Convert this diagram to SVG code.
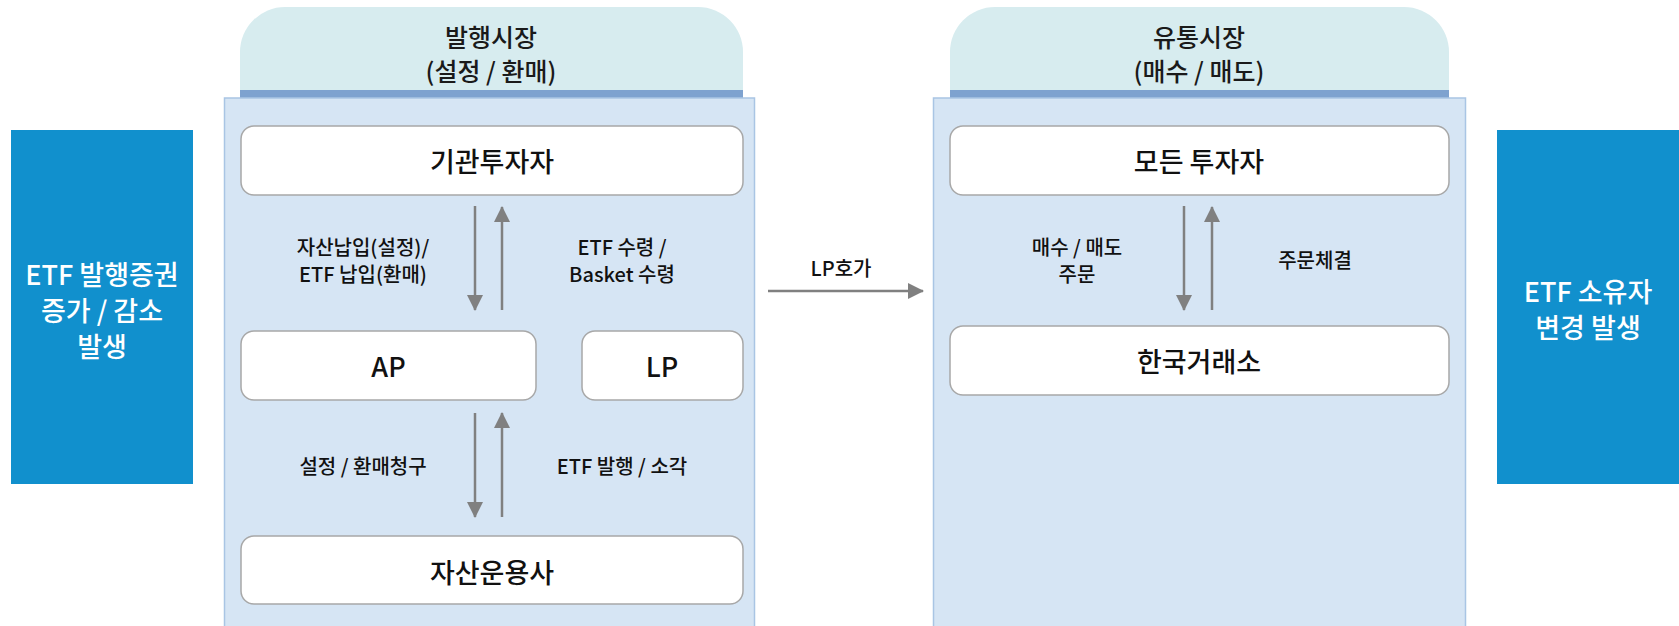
<svg xmlns="http://www.w3.org/2000/svg" width="1679" height="626" viewBox="0 0 1679 626">
<defs>
<style>
.side{fill:#1190cd}
.tab{fill:#d7ecef}
.strip{fill:#7ea2cf}
.panel{fill:#d6e5f4;stroke:#a9c5e4;stroke-width:1.5}
.node{fill:#ffffff;stroke:#a8a8a8;stroke-width:1.5}
text{font-family:"Noto Sans CJK KR","Noto Sans",sans-serif;text-anchor:middle;dominant-baseline:central}
.wt{fill:#ffffff;font-size:27px;font-weight:500}
.hd{fill:#1a1a1a;font-size:25px;font-weight:500}
.nt{fill:#111111;font-size:27px;font-weight:500}
.lb{fill:#111111;font-size:20px;font-weight:500}
.ar{stroke:#808080;stroke-width:2.5;fill:none}
</style>
<marker id="ah" viewBox="0 0 16 16" refX="15" refY="8" markerWidth="16" markerHeight="16" markerUnits="userSpaceOnUse" orient="auto">
<path d="M0,0 L16,8 L0,16 Z" fill="#808080"/>
</marker>
</defs>

<g id="issue-side">
<rect class="side" x="11" y="130" width="182" height="354"/>
<text class="wt" x="102" y="273">ETF 발행증권</text>
<text class="wt" x="102" y="309">증가 / 감소</text>
<text class="wt" x="102" y="345">발생</text>
</g>

<g id="issue-market">
<path class="tab" d="M240,98 V52 A45,45 0 0 1 285,7 H698 A45,45 0 0 1 743,52 V98 Z"/>
<rect class="strip" x="240" y="90" width="503" height="8"/>
<rect class="panel" x="224.5" y="98" width="530" height="540"/>
<text class="hd" x="491" y="36">발행시장</text>
<text class="hd" x="491" y="69.5">(설정 / 환매)</text>
</g>

<g id="trade-market">
<path class="tab" d="M950,98 V52 A45,45 0 0 1 995,7 H1404 A45,45 0 0 1 1449,52 V98 Z"/>
<rect class="strip" x="950" y="90" width="499" height="8"/>
<rect class="panel" x="933.5" y="98" width="532" height="540"/>
<text class="hd" x="1199" y="36">유통시장</text>
<text class="hd" x="1199" y="69.5">(매수 / 매도)</text>
</g>

<g id="owner-side">
<rect class="side" x="1497" y="130" width="182" height="354"/>
<text class="wt" x="1588" y="290">ETF 소유자</text>
<text class="wt" x="1588" y="326">변경 발생</text>
</g>

<g id="inst">
<rect class="node" x="241" y="126" width="502" height="69" rx="13"/>
<text class="nt" x="492" y="160">기관투자자</text>
</g>
<g id="ap">
<rect class="node" x="241" y="331" width="295" height="69" rx="13"/>
<text class="nt" x="388.5" y="365">AP</text>
</g>
<g id="lp">
<rect class="node" x="582" y="331" width="161" height="69" rx="13"/>
<text class="nt" x="662" y="365">LP</text>
</g>
<g id="amc">
<rect class="node" x="241" y="536" width="502" height="68" rx="13"/>
<text class="nt" x="492" y="571">자산운용사</text>
</g>
<g id="all-inv">
<rect class="node" x="950" y="126" width="499" height="69" rx="13"/>
<text class="nt" x="1199" y="160">모든 투자자</text>
</g>
<g id="krx">
<rect class="node" x="950" y="326" width="499" height="69" rx="13"/>
<text class="nt" x="1199" y="360">한국거래소</text>
</g>

<g id="connectors">
<line class="ar" x1="475" y1="206" x2="475" y2="310" marker-end="url(#ah)"/>
<line class="ar" x1="502" y1="310" x2="502" y2="207" marker-end="url(#ah)"/>
<line class="ar" x1="475" y1="413" x2="475" y2="517" marker-end="url(#ah)"/>
<line class="ar" x1="502" y1="517" x2="502" y2="413" marker-end="url(#ah)"/>
<line class="ar" x1="768" y1="291" x2="923" y2="291" marker-end="url(#ah)"/>
<line class="ar" x1="1184" y1="206" x2="1184" y2="310" marker-end="url(#ah)"/>
<line class="ar" x1="1212" y1="310" x2="1212" y2="207" marker-end="url(#ah)"/>
<text class="lb" x="363" y="246">자산납입(설정)/</text>
<text class="lb" x="363" y="273">ETF 납입(환매)</text>
<text class="lb" x="622" y="246">ETF 수령 /</text>
<text class="lb" x="622" y="273">Basket 수령</text>
<text class="lb" x="363" y="465">설정 / 환매청구</text>
<text class="lb" x="622" y="465">ETF 발행 / 소각</text>
<text class="lb" x="841" y="267">LP호가</text>
<text class="lb" x="1077" y="246">매수 / 매도</text>
<text class="lb" x="1077" y="273">주문</text>
<text class="lb" x="1315" y="259">주문체결</text>
</g>
</svg>
